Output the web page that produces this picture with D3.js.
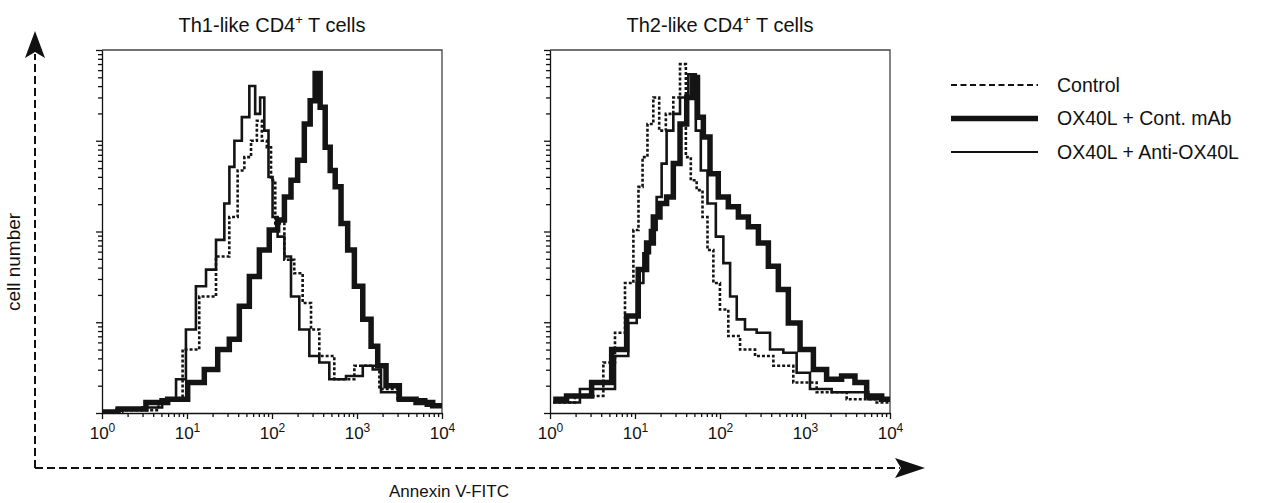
<!DOCTYPE html>
<html>
<head>
<meta charset="utf-8">
<script src="https://cdn.jsdelivr.net/npm/d3@7"></script>
<style>
  body { margin: 0; background: #fff; }
  text { font-family: "Liberation Sans", Arial, sans-serif; fill: #111; }
  .axis path, .axis line { stroke: #111; stroke-width: 1.3; }
</style>
</head>
<body>
<div id="chart"></div>
<script>
// ---- data: [Annexin V-FITC intensity, cell number (% of max)]
var seriesNames = ['Control', 'OX40L + Cont. mAb', 'OX40L + Anti-OX40L'];
var panelTitles = ['Th1-like CD4', 'Th2-like CD4'];
var xTickValues = [1, 10, 100, 1000, 10000];
var xTickExponents = ['0', '1', '2', '3', '4'];

var th1Control = [[1,0.3],[3,0.8],[7.1,3.8],[11.1,17.5],[17.5,32.1],[27.5,43.1],[36,54],[43.2,66.8],[51.8,70.5],[62,75],[71,80.5],[81.3,75],[93,73.2],[102,64.1],[117,52.2],[167,42.2],[200,38.5],[263,30.3],[315,23],[412,15.7],[710,9.3],[1220,13],[1600,13],[2100,6.6],[4320,3.8],[9730,2],[10000,2]];
var th1ContMab = [[1,0.3],[2.4,1.1],[4.5,2.9],[7.8,3.8],[13.3,8.4],[19.2,12],[27.5,17.5],[36,20.3],[47.3,29.4],[62,37.6],[81.3,44.9],[106,50.4],[128,53.2],[153,59.5],[183,64.1],[219,69.6],[263,79.6],[301,86],[344,93.5],[395,84.2],[452,73.2],[518,66.8],[593,62.3],[710,52.2],[850,44.9],[1020,34.9],[1340,25.8],[1600,18.4],[1920,13],[2510,7.5],[3950,3.8],[6200,2.9],[9730,2],[10000,2]];
var th1AntiOx40l = [[1,0.3],[2.2,1.1],[4,1.5],[6.5,3.8],[8.5,9.3],[11.1,23],[14.6,34.9],[19.2,39.5],[25.1,47.7],[30.1,57.7],[33,67.8],[39.5,75],[49.4,81.5],[59.3,90.1],[67.8,82.4],[77.6,86.9],[85,77.8],[97.3,65],[106,54],[128,48.6],[153,43.1],[183,32.1],[240,23],[315,15.7],[412,13.9],[541,9.3],[1020,10.2],[1340,13],[1750,12],[2100,5.7],[4320,3.8],[9730,2],[10000,2]];

var th2Control = [[1.09,2.9],[3.54,4.7],[5.08,13.9],[6.66,22.1],[8.73,35.8],[10.5,50.4],[11.5,62.3],[13.1,70.5],[15,79.6],[18,86.9],[20.6,77.8],[25.8,82.4],[30.9,86.9],[37.1,96.1],[42.4,70.5],[48.5,64.1],[58.2,61.4],[66.6,54],[76.3,44.9],[91.5,35.8],[109,28.5],[144,21.2],[206,17.5],[324,15.7],[556,13],[955,8.4],[1970,5.7],[4850,3.8],[10000,2.9]];
var th2ContMab = [[1.09,3.8],[2.25,4.7],[4.24,8.4],[6.66,17.5],[9.55,26.7],[12.5,39.5],[15,46.8],[18,54],[21.5,57.7],[25.8,59.5],[30.9,68.7],[37.1,79.6],[44.4,86.9],[50.8,92.4],[58.2,81.5],[69.7,76],[83.5,65.9],[109,59.5],[144,56.8],[188,54],[247,51.3],[324,46.8],[424,40.4],[556,34],[729,24.8],[1050,17.5],[1500,12],[2150,9.3],[3380,10.2],[4430,8.4],[6370,4.7],[10000,3.8]];
var th2AntiOx40l = [[1.09,2.9],[4.64,6.6],[7.29,15.7],[9.55,24.8],[11.5,35.8],[13.7,44],[16.4,50.4],[19.7,59.5],[21.5,68.7],[25.8,77.8],[30.9,82.4],[37.1,86.9],[48.5,93.3],[55.6,77.8],[63.6,66.8],[79.8,57.7],[100,48.6],[120,41.3],[144,32.1],[172,25.8],[225,23],[324,22.1],[464,17.5],[666,16.6],[955,11.1],[1370,6.6],[3090,5.7],[10000,3.8]];

var panels = [
  { title: panelTitles[0], left: 102, series: [th1ContMab, th1AntiOx40l, th1Control] },
  { title: panelTitles[1], left: 550, series: [th2ContMab, th2AntiOx40l, th2Control] }
];
// style per series, same order as series arrays above
var styles = [
  { w: 5.5, dash: null },       // Cont. mAb
  { w: 2.6, dash: null },       // Anti-OX40L
  { w: 2.6, dash: '3,2' }       // Control
];

var W = 1269, H = 503;
var plotTop = 50, pw = 340, ph = 363;

var svg = d3.select('#chart').append('svg')
  .attr('width', W)
  .attr('height', H);

var x = d3.scaleLog().domain([1, 10000]).range([0, pw]);
var y = d3.scaleLinear().domain([0, 100]).range([ph, 0]);
var yTick = d3.scaleLog().domain([1, 10000]).range([ph, 0]);

// all log ticks 1..10000
var minorTicks = [];
for (var e = 0; e < 4; e++) {
  for (var k = 2; k <= 9; k++) minorTicks.push(k * Math.pow(10, e));
}

var line = d3.line()
  .x(d => x(d[0]))
  .y(d => y(d[1]))
  .curve(d3.curveStep);

panels.forEach(function (p, pi) {
  var g = svg.append('g')
    .attr('transform', 'translate(' + p.left + ',' + plotTop + ')');

  g.append('defs').append('clipPath')
    .attr('id', 'clip' + pi)
    .append('rect')
    .attr('x', 0).attr('y', -10)
    .attr('width', pw).attr('height', ph + 10);

  // frame top/right (thin, grey)
  g.append('path')
    .attr('d', 'M0,0H' + pw + 'V' + ph)
    .attr('fill', 'none')
    .attr('stroke', '#444')
    .attr('stroke-width', 1.3);

  // histograms
  var curves = g.append('g').attr('clip-path', 'url(#clip' + pi + ')');
  p.series.forEach(function (s, si) {
    curves.append('path')
      .datum(s)
      .attr('d', line)
      .attr('fill', 'none')
      .attr('stroke', '#141414')
      .attr('stroke-width', styles[si].w)
      .attr('stroke-dasharray', styles[si].dash)
      .attr('stroke-linejoin', 'miter');
  });

  // y axis: log ticks pointing left, no labels
  g.append('g').attr('class', 'axis')
    .call(d3.axisLeft(yTick).tickValues(minorTicks).tickSize(4).tickFormat(''))
    .select('.domain').remove();
  g.append('g').attr('class', 'axis')
    .call(d3.axisLeft(yTick).tickValues(xTickValues).tickSize(6).tickFormat('').tickSizeOuter(0));

  // x axis
  g.append('g').attr('class', 'axis')
    .attr('transform', 'translate(0,' + ph + ')')
    .call(d3.axisBottom(x).tickValues(minorTicks).tickSize(4).tickFormat(''))
    .select('.domain').remove();
  var xa = g.append('g').attr('class', 'axis')
    .attr('transform', 'translate(0,' + ph + ')')
    .call(d3.axisBottom(x).tickValues(xTickValues).tickSize(6).tickFormat('').tickSizeOuter(0));

  xa.selectAll('.tick').each(function (d, i) {
    var t = d3.select(this).append('text')
      .attr('y', 26)
      .attr('text-anchor', 'middle')
      .attr('font-size', 17)
      .attr('fill', '#111');
    t.append('tspan').text('10');
    t.append('tspan').attr('dy', -7).attr('font-size', 12).text(xTickExponents[i]);
  });

  // title
  var tt = svg.append('text')
    .attr('x', p.left + pw / 2)
    .attr('y', 32)
    .attr('text-anchor', 'middle')
    .attr('font-size', 20);
  tt.append('tspan').text(p.title);
  tt.append('tspan').attr('dy', -8).attr('font-size', 13).text('+');
  tt.append('tspan').attr('dy', 8).text(' T cells');
});

// dashed axis arrows
var ax0 = 35, ay0 = 468;
svg.append('path')
  .attr('d', 'M' + ax0 + ',' + ay0 + 'V' + 54 + 'M' + ax0 + ',' + ay0 + 'H' + 900)
  .attr('fill', 'none')
  .attr('stroke', '#111')
  .attr('stroke-width', 2)
  .attr('stroke-dasharray', '8,4');
// arrow heads
svg.append('path')
  .attr('d', 'M' + ax0 + ',31 L' + (ax0 + 10) + ',58 L' + ax0 + ',52 L' + (ax0 - 10) + ',58 Z')
  .attr('fill', '#111');
svg.append('path')
  .attr('d', 'M925,' + ay0 + ' L895,' + (ay0 - 10) + ' L901,' + ay0 + ' L895,' + (ay0 + 10) + ' Z')
  .attr('fill', '#111');

svg.append('text')
  .attr('transform', 'translate(20,262) rotate(-90)')
  .attr('text-anchor', 'middle')
  .attr('font-size', 19)
  .text('cell number');

svg.append('text')
  .attr('x', 449)
  .attr('y', 497)
  .attr('text-anchor', 'middle')
  .attr('font-size', 17)
  .text('Annexin V-FITC');

// legend
var legendStyles = [
  { w: 2, dash: '6,3.5' },
  { w: 5.5, dash: null },
  { w: 2, dash: null }
];
var legend = svg.append('g').attr('transform', 'translate(951,85)');
seriesNames.forEach(function (name, i) {
  var row = legend.append('g').attr('transform', 'translate(0,' + i * 33.5 + ')');
  row.append('line')
    .attr('x1', 0).attr('x2', 87)
    .attr('stroke', '#111')
    .attr('stroke-width', legendStyles[i].w)
    .attr('stroke-dasharray', legendStyles[i].dash);
  row.append('text')
    .attr('x', 106)
    .attr('dy', '0.35em')
    .attr('font-size', 19.5)
    .text(name);
});
</script>
</body>
</html>
